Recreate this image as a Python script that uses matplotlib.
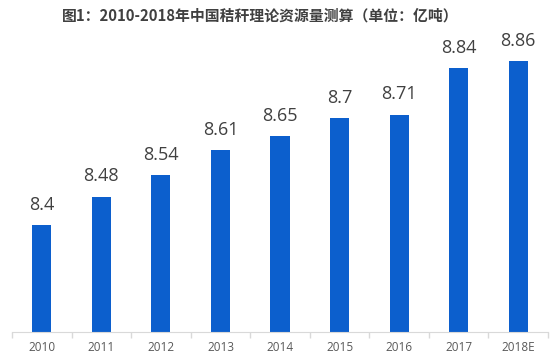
import numpy as np
import matplotlib.pyplot as plt
from matplotlib.ticker import FixedLocator

plt.rcParams['font.family'] = ['Noto Sans CJK SC', 'DejaVu Sans']

years = ['2010', '2011', '2012', '2013', '2014', '2015', '2016', '2017', '2018E']
values = [8.4, 8.48, 8.54, 8.61, 8.65, 8.7, 8.71, 8.84, 8.86]
value_labels = ['8.4', '8.48', '8.54', '8.61', '8.65', '8.7', '8.71', '8.84', '8.86']

W, H = 556, 364
fig = plt.figure(figsize=(W / 100, H / 100), dpi=100)
ax = fig.add_axes([12 / W, 32 / H, 536 / W, 292 / H])

base = 8.1
x = np.arange(len(years))
ax.bar(x, np.array(values) - base, bottom=base, width=0.32, color='#0c5fcd')

for xi, v, lab in zip(x, values, value_labels):
    ax.annotate(lab, (xi, v), xytext=(0, 8), textcoords='offset points',
                ha='center', va='bottom', fontsize=13, color='#404040',
                family=['Open Sans', 'DejaVu Sans'])

ax.set_xlim(-0.5, len(years) - 0.5)
ax.set_ylim(base, base + 292 / 356.5)
ax.set_yticks([])
ax.set_xticks(x)
ax.set_xticklabels(years, fontsize=8.5, color='#595959', family=['Open Sans', 'DejaVu Sans'])
ax.xaxis.set_minor_locator(FixedLocator(np.arange(-0.5, len(years), 1)))
ax.tick_params(axis='x', which='major', length=0, pad=6.5)
ax.tick_params(axis='x', which='minor', length=4, color='#d9d9d9', width=1)
for s in ['top', 'right', 'left']:
    ax.spines[s].set_visible(False)
ax.spines['bottom'].set_color('#d9d9d9')

fig.text(260 / W, 1 - 16 / H, '图1：2010-2018年中国秸秆理论资源量测算（单位：亿吨）',
         ha='center', va='center', fontsize=10.7, fontweight='bold', color='#404040')

fig.savefig('out.png', dpi=100)
